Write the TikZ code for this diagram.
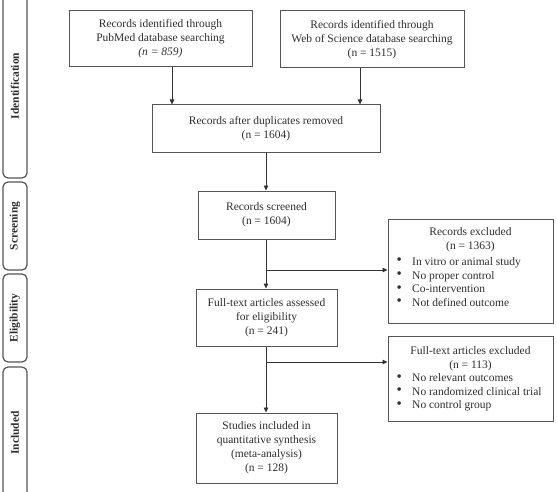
\documentclass[tikz,border=0pt]{standalone}
\usepackage{fontspec}
\setmainfont{Liberation Serif}
\usetikzlibrary{arrows.meta}
\definecolor{ink}{HTML}{2E2E2E}
\definecolor{edge}{HTML}{555555}
\newcommand{\blt}{\makebox[6pt][c]{\raisebox{0.5pt}{\scalebox{1.3}{\textbullet}}}\hspace{10pt}}
\begin{document}
\begin{tikzpicture}[x=1pt,y=-1pt,
  box/.style={draw=edge,line width=1pt,inner sep=0pt,align=center,text=ink,font=\fontsize{11.5}{14}\selectfont},
  side/.style={draw=edge,line width=1.2pt,rounded corners=5pt},
  sidetxt/.style={rotate=90,font=\fontsize{11.5}{14}\selectfont\bfseries,text=ink},
  txt/.style={text=ink,font=\fontsize{11.5}{14}\selectfont,inner sep=0pt},
  lst/.style={text=ink,font=\fontsize{11.5}{13.7}\selectfont,inner sep=0pt,align=left,anchor=west},
  arr/.style={draw=black!80,line width=0.8pt,-{Triangle[length=5pt,width=4.5pt]}}]
\useasboundingbox (0,0) rectangle (557,492);
\clip (0,0) rectangle (557,492);
% side bars
\draw[side] (3,-8) rectangle (27,178);
\draw[side] (3,182) rectangle (27,270);
\draw[side] (3,274) rectangle (27,362);
\draw[side] (3,367) rectangle (27,505);
\node[sidetxt] (sid1) at (15,86) {Identification};
\node[sidetxt] (sid2) at (15,226) {Screening};
\node[sidetxt] (sid3) at (15,318) {Eligibility};
\node[sidetxt] (sid4) at (15,433) {Included};
% main boxes
\node[box,minimum width=183pt,minimum height=56pt] (pub) at (160.5,39) {Records identified through\\PubMed database searching\\\textit{(n = 859)}};
\node[box,minimum width=184pt,minimum height=57pt] (wos) at (372,39.5) {Records identified through\\Web of Science database searching\\(n = 1515)};
\node[box,minimum width=228pt,minimum height=48pt] (dup) at (266,129) {Records after duplicates removed\\(n = 1604)};
\node[box,minimum width=137pt,minimum height=48pt] (scr) at (266.5,215) {Records screened\\(n = 1604)};
\node[box,minimum width=141pt,minimum height=57pt] (ft) at (266.5,317.5) {Full-text articles assessed\\for eligibility\\(n = 241)};
\node[box,minimum width=141pt,minimum height=70pt] (inc) at (266.5,448) {Studies included in\\quantitative synthesis\\(meta-analysis)\\(n = 128)};
\node[box,minimum width=165pt,minimum height=104pt] (ex1) at (470.5,271) {};
\node[box,minimum width=165pt,minimum height=85pt] (ex2) at (470.5,378.5) {};
% excluded texts
\node[txt,align=center] (ex1t) at (470.5,240) {Records excluded\\(n = 1363)};
\node[lst] (ex1l) at (396,282) {\blt In vitro or animal study\\\blt No proper control\\\blt Co-intervention\\\blt Not defined outcome};
\node[txt,align=center] (ex2t) at (470.5,358.5) {Full-text articles excluded\\(n = 113)};
\node[lst] (ex2l) at (396,392.5) {\blt No relevant outcomes\\\blt No randomized clinical trial\\\blt No control group};
% connectors
\coordinate (c1) at (172,0);
\coordinate (c2) at (360,0);
\coordinate (b1) at (266,270);
\coordinate (b2) at (266,362);
\draw[arr] (pub.south -| c1) -- (dup.north -| c1);
\draw[arr] (wos.south -| c2) -- (dup.north -| c2);
\draw[arr] (dup.south -| b1) -- (scr.north -| b1);
\draw[arr] (scr.south -| b1) -- (ft.north -| b1);
\draw[arr] (b1) -- (b1 -| ex1.west);
\draw[arr] (ft.south -| b2) -- (inc.north -| b2);
\draw[arr] (b2) -- (b2 -| ex2.west);
\end{tikzpicture}
\end{document}
